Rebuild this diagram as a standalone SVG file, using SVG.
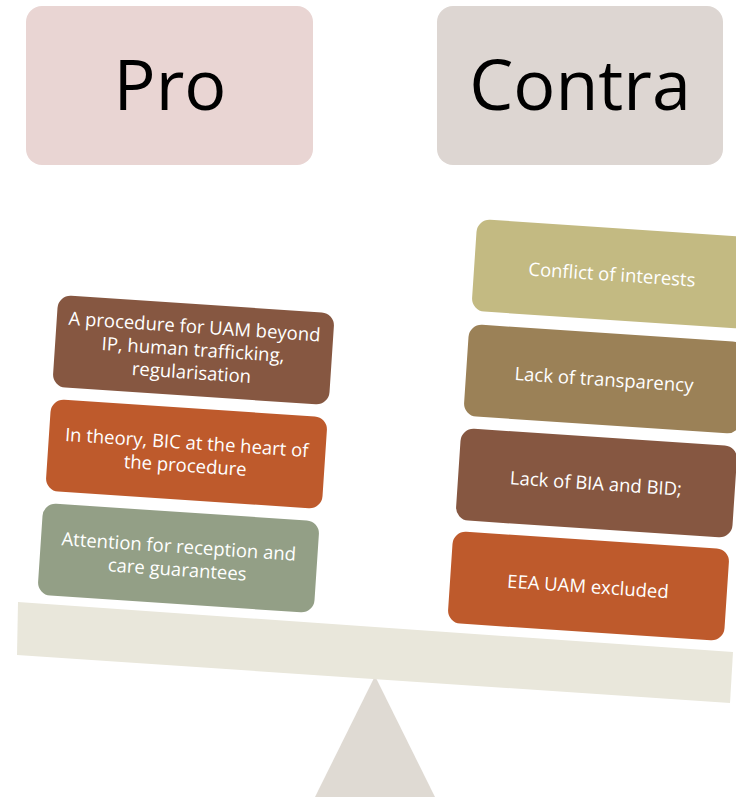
<svg xmlns="http://www.w3.org/2000/svg" width="736" height="800" viewBox="0 0 736 800">
<style>
.hdr{font-family:"Open Sans","Liberation Sans",sans-serif;font-size:70px;fill:#000;text-anchor:middle}
.t{font-family:"Open Sans","Liberation Sans",sans-serif;font-size:18.5px;fill:#fff;text-anchor:middle}
</style>
<rect width="736" height="800" fill="#fff"/>
<g id="pro"><rect x="26" y="6" width="287" height="159" rx="16" fill="#E9D5D3"/><text class="hdr" x="170" y="110">Pro</text></g>
<g id="contra"><rect x="437" y="6" width="286" height="159" rx="16" fill="#DDD6D2"/><text class="hdr" x="580" y="110">Contra</text></g>
<g id="fulcrum"><polygon points="375,676 435,797 315,797" fill="#DFDAD3"/></g>
<g id="beam"><polygon points="18,602 733,652 730,703 17,655" fill="#E9E7DB"/></g>
<g id="p1" transform="rotate(3.8 193 350)"><rect x="55" y="304" width="277" height="92" rx="13" fill="#865741"/>
<text class="t" x="193" y="333">A procedure for UAM beyond</text><text class="t" x="193" y="356">IP, human trafficking,</text><text class="t" x="193" y="379">regularisation</text></g>
<g id="p2" transform="rotate(3.8 186 454)"><rect x="48" y="408" width="277" height="92" rx="13" fill="#BE5A2C"/>
<text class="t" x="186" y="449">In theory, BIC at the heart of</text><text class="t" x="186" y="472">the procedure</text></g>
<g id="p3" transform="rotate(3.8 178 558)"><rect x="40" y="512" width="277" height="92" rx="13" fill="#939F86"/>
<text class="t" x="178" y="553">Attention for reception and</text><text class="t" x="178" y="576">care guarantees</text></g>
<g id="c1" transform="rotate(3.8 612 274)"><rect x="474" y="228" width="277" height="92" rx="13" fill="#C3BA82"/>
<text class="t" x="612" y="281">Conflict of interests</text></g>
<g id="c2" transform="rotate(3.8 604 379)"><rect x="466" y="333" width="277" height="92" rx="13" fill="#9B8157"/>
<text class="t" x="604" y="386">Lack of transparency</text></g>
<g id="c3" transform="rotate(3.8 596 483)"><rect x="458" y="437" width="277" height="92" rx="13" fill="#865741"/>
<text class="t" x="596" y="490">Lack of BIA and BID;</text></g>
<g id="c4" transform="rotate(3.8 588 586)"><rect x="450" y="540" width="277" height="92" rx="13" fill="#BE5A2C"/>
<text class="t" x="588" y="593">EEA UAM excluded</text></g>
<g id="connectors"/>
</svg>
